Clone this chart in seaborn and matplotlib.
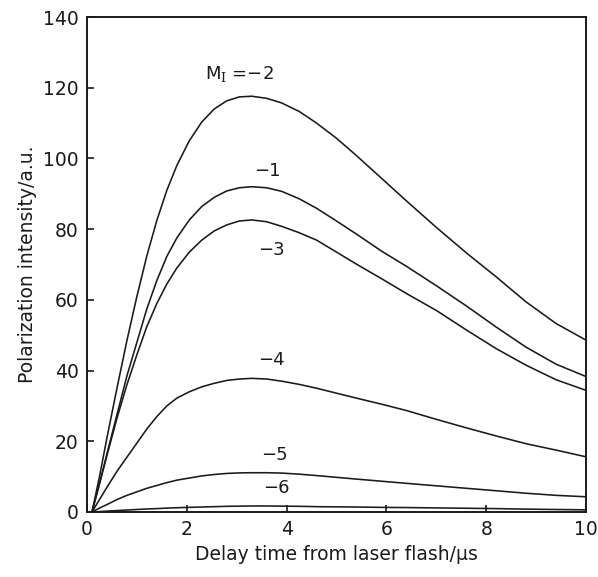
import matplotlib
matplotlib.use("Agg")
import matplotlib.pyplot as plt
import seaborn as sns
import pandas as pd

# delay time (us) and intensity, one list per M_I
delay = [0.1, 0.25, 0.4, 0.6, 0.8, 1.0, 1.2, 1.4, 1.6, 1.8,
         2.05, 2.3, 2.55, 2.8, 3.05, 3.3, 3.6, 3.9, 4.25, 4.6,
         5.0, 5.4, 5.9, 6.4, 7.0, 7.6, 8.2, 8.8, 9.4, 10.0]
m_minus2 = [0, 10, 21, 35, 48.5, 61, 72.5, 82.5, 91, 98,
            105, 110.3, 114, 116.3, 117.4, 117.6, 117, 115.7, 113.3, 110,
            105.7, 100.8, 94.4, 88, 80.5, 73.3, 66.5, 59.4, 53.3, 48.6]
m_minus1 = [0, 8, 16.5, 27.5, 38.5, 48, 57.5, 65.5, 72.3, 77.5,
            82.6, 86.4, 89, 90.8, 91.7, 92, 91.7, 90.7, 88.6, 85.9,
            82.3, 78.6, 73.8, 69.5, 64, 58.3, 52.3, 46.6, 41.8, 38.3]
m_minus3 = [0, 8, 16, 26.5, 36, 44.5, 52.5, 59, 64.5, 69,
            73.5, 76.9, 79.5, 81.2, 82.3, 82.6, 82.1, 80.8, 79, 76.9,
            73.5, 70.1, 66, 61.8, 57, 51.5, 46.2, 41.5, 37.4, 34.4]
m_minus4 = [0, 3.5, 7, 11.5, 15.5, 19.5, 23.5, 27, 30, 32.2,
            34, 35.4, 36.4, 37.2, 37.6, 37.8, 37.6, 37, 36.1, 35.0,
            33.6, 32.2, 30.5, 28.7, 26.2, 23.8, 21.5, 19.3, 17.5, 15.6]
m_minus5 = [0, 1.1, 2.1, 3.5, 4.7, 5.7, 6.7, 7.5, 8.3, 9.0,
            9.6, 10.2, 10.6, 10.9, 11.05, 11.1, 11.1, 11.0, 10.7, 10.3,
            9.8, 9.3, 8.7, 8.1, 7.4, 6.7, 6.0, 5.3, 4.7, 4.3]
m_minus6 = [0, 0.1, 0.25, 0.4, 0.55, 0.7, 0.85, 0.95, 1.1, 1.2,
            1.3, 1.4, 1.5, 1.6, 1.65, 1.7, 1.7, 1.65, 1.6, 1.5,
            1.45, 1.4, 1.3, 1.25, 1.15, 1.05, 0.95, 0.8, 0.7, 0.6]

series = {"-2": m_minus2, "-1": m_minus1, "-3": m_minus3,
          "-4": m_minus4, "-5": m_minus5, "-6": m_minus6}

# label positions (data coords) and texts
label_text = [r"M$_{\mathrm{I}}$ =−2", "−1", "−3", "−4", "−5", "−6"]
label_x = [3.05, 3.62, 3.7, 3.7, 3.75, 3.8]
label_y = [124, 96.5, 74, 43, 16, 6.8]

frames = []
for name, vals in series.items():
    frames.append(pd.DataFrame({"t": delay, "I": vals, "M": name}))
df = pd.concat(frames, ignore_index=True)

sns.set_style("ticks")
plt.rcParams["font.family"] = ["DejaVu Sans"]
plt.rcParams["mathtext.fontset"] = "dejavuserif"

ink = "#1a1a1a"
fig = plt.figure(figsize=(5.98, 5.77), dpi=100)
ax = fig.add_axes([0.1455, 0.1127, 0.8345, 0.8578])

sns.lineplot(data=df, x="t", y="I", hue="M", palette=[ink] * 6,
             linewidth=1.15, legend=False, ax=ax)

for txt, lx, ly in zip(label_text, label_x, label_y):
    ax.text(lx, ly, txt, ha="center", va="center", fontsize=13, color=ink)

ax.set_xlim(0, 10)
ax.set_ylim(0, 140)
ax.set_xticks([0, 2, 4, 6, 8, 10])
ax.set_yticks([0, 20, 40, 60, 80, 100, 120, 140])
ax.tick_params(direction="in", length=5, width=1.2, labelsize=13.5,
               colors=ink, pad=6)
for sp in ax.spines.values():
    sp.set_visible(True)
    sp.set_linewidth(1.4)
    sp.set_color(ink)

ax.set_xlabel("Delay time from laser flash/µs", fontsize=13.5, color=ink)
ax.set_ylabel("Polarization intensity/a.u.", fontsize=13.5, color=ink)

fig.savefig("out.png", dpi=100)
